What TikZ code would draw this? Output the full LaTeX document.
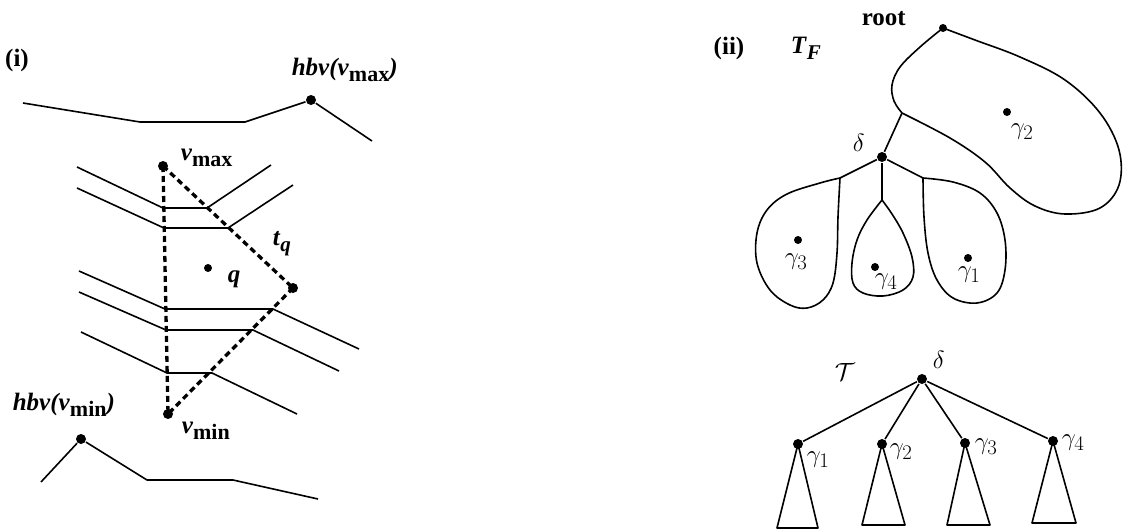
\documentclass[tikz,border=0pt]{standalone}
\usepackage{fontspec}
\setmainfont{Liberation Serif}
\newcommand{\bi}[1]{\textbf{\textit{#1}}}
\newcommand{\lowsub}[1]{\raisebox{-0.6ex}{\fontsize{22}{22}\selectfont\bfseries #1}}
\newcommand{\lowsubit}[1]{\raisebox{-0.6ex}{\fontsize{21}{21}\selectfont\bfseries\itshape #1}}
\begin{document}
\begin{tikzpicture}[x=1pt,y=-1pt,
  line width=1.6pt, line join=round,
  dot/.style={circle,fill=black,inner sep=0pt,minimum size=10pt},
  sdot/.style={circle,fill=black,inner sep=0pt,minimum size=8pt},
  dashline/.style={line width=3.3pt,dash pattern=on 6pt off 4pt},
  lbl/.style={inner sep=0pt,font=\fontsize{25}{27}\selectfont},
  glbl/.style={inner sep=0pt,anchor=west,font=\fontsize{30}{32}\selectfont}]
\useasboundingbox (0,0) rectangle (1128,531);

% ---------- panel (i) ----------
\node[lbl] (lab1) at (17,60) {\textbf{(i)}};
% top boundary
\node[dot] (hmax) at (311,100) {};
\coordinate (ta) at (23,103);
\coordinate (tb) at (140,122);
\coordinate (tc) at (245,122);
\coordinate (td) at (372,141);
\draw (ta) -- (tb) -- (tc) -- (hmax) -- (td);
\node[lbl,anchor=base west] (hmaxl) at (291,75) {\bi{hbv(v}\lowsub{max}\bi{)}};
% bottom boundary
\node[dot] (hmin) at (81,439) {};
\coordinate (ba) at (41,482);
\coordinate (bb) at (147,480);
\coordinate (bc) at (233,480);
\coordinate (bd) at (318,499);
\draw (ba) -- (hmin) -- (bb) -- (bc) -- (bd);
\node[lbl,anchor=base west] (hminl) at (12,410) {\bi{hbv(v}\lowsub{min}\bi{)}};

% triangle vertices
\node[dot] (vmax) at (163,166) {};
\node[dot] (vr) at (293,288) {};
\node[dot] (vmin) at (168,414) {};
\node[lbl,anchor=base west] (vmaxl) at (180,160) {\bi{v}\lowsub{max}};
\node[lbl,anchor=base west] (vminl) at (181,433) {\bi{v}\lowsub{min}};
\node[lbl,anchor=base west] (tql) at (272,245) {\bi{t}\lowsubit{q}};
\node[sdot] (q) at (208,268) {};
\node[lbl,anchor=base west] (ql) at (227,282) {\bi{q}};

% segment lines
\coordinate (a1) at (77,167);  \coordinate (a2) at (163,208); \coordinate (a3) at (207,208); \coordinate (a4) at (271,165);
\coordinate (b1) at (77,188);  \coordinate (b2) at (164,228); \coordinate (b3) at (228,228); \coordinate (b4) at (293,185);
\coordinate (c1) at (79,271);  \coordinate (c2) at (165,309); \coordinate (c3) at (273,309); \coordinate (c4) at (359,349);
\coordinate (d1) at (79,292);  \coordinate (d2) at (166,330); \coordinate (d3) at (253,330); \coordinate (d4) at (339,371);
\coordinate (e1) at (81,332);  \coordinate (e2) at (167,373); \coordinate (e3) at (212,373); \coordinate (e4) at (297,414);
\draw (a1) -- (a2) -- (a3) -- (a4);
\draw (b1) -- (b2) -- (b3) -- (b4);
\draw (c1) -- (c2) -- (c3) -- (c4);
\draw (d1) -- (d2) -- (d3) -- (d4);
\draw (e1) -- (e2) -- (e3) -- (e4);

% dashed triangle
\draw[dashline] (vmax.center) -- (vmin.center);
\draw[dashline] (vmax.center) -- (vr.center);
\draw[dashline] (vr.center) -- (vmin.center);

% ---------- panel (ii) ----------
\node[lbl] (lab2) at (729,48) {\textbf{(ii)}};
\node[lbl,anchor=base west] (tfl) at (790,53) {\bi{T}\lowsubit{F}};
\node[lbl,anchor=base west] (rootl) at (861,25) {\textbf{root}};
\node[sdot] (root) at (943,28) {};
\coordinate (jn) at (902,113);
\node[dot] (dl) at (882,157) {};
\node[glbl] (dll) at (852,143) {$\delta$};

% gamma2 blob
\draw plot[smooth,tension=0.6] coordinates {(943,28) (920,47) (900,67) (892,85) (894,101) (902,113)};
\draw plot[smooth,tension=0.6] coordinates {(902,113) (950,138) (985,162) (1010,188) (1035,206) (1065,214) (1100,208) (1119,185) (1119,150) (1100,113) (1065,80) (1020,57) (975,40) (943,28)};
\draw (jn) -- (dl);
\node[sdot] (g2) at (1007,112) {};
\node[glbl] (g2l) at (1010,132) {$\gamma_2$};

% gamma3 loop
\coordinate (j3) at (840,178);
\draw (dl) -- (j3);
\draw plot[smooth,tension=0.6] coordinates {(840,178) (820,183) (787,194) (767,210) (757,233) (757,263) (770,290) (790,305) (807,308) (823,300) (833,283) (837,253) (838,217) (840,178)};
\node[sdot] (g3) at (798,240) {};
\node[glbl] (g3l) at (784,262) {$\gamma_3$};

% gamma4 loop
\coordinate (j4) at (882,200);
\draw (dl) -- (j4);
\draw plot[smooth,tension=0.6] coordinates {(882,200) (867,220) (857,240) (852,263) (853,283) (863,293) (883,296) (903,290) (913,277) (912,257) (903,233) (892,214) (882,200)};
\node[sdot] (g4) at (875,267) {};
\node[glbl] (g4l) at (874,282) {$\gamma_4$};

% gamma1 loop
\coordinate (j1) at (923,178);
\draw (dl) -- (j1);
\draw plot[smooth,tension=0.6] coordinates {(923,178) (924,217) (928,253) (937,280) (953,298) (977,303) (997,293) (1005,270) (1005,240) (997,213) (980,193) (953,182) (923,178)};
\node[sdot] (g1) at (968,258) {};
\node[glbl] (g1l) at (957,275) {$\gamma_1$};

% ---------- tree T ----------
\node[glbl] (tcal) at (834,372) {$\mathcal{T}$};
\node[dot] (td) at (922,379) {};
\node[glbl] (tdl) at (932,360) {$\delta$};
\node[dot] (t1) at (798,444) {};
\node[dot] (t2) at (882,444) {};
\node[dot] (t3) at (965,443) {};
\node[dot] (t4) at (1053,441) {};
\draw (td) -- (t1); \draw (td) -- (t2); \draw (td) -- (t3); \draw (td) -- (t4);
\node[glbl] (t1l) at (806,460) {$\gamma_1$};
\node[glbl] (t2l) at (889,452) {$\gamma_2$};
\node[glbl] (t3l) at (974,447) {$\gamma_3$};
\node[glbl] (t4l) at (1061,443) {$\gamma_4$};
\coordinate (t1a) at (777,528); \coordinate (t1b) at (818,528);
\coordinate (t2a) at (862,525); \coordinate (t2b) at (905,525);
\coordinate (t3a) at (947,525); \coordinate (t3b) at (990,525);
\coordinate (t4a) at (1032,523); \coordinate (t4b) at (1076,523);
\draw (t1.center) -- (t1a) -- (t1b) -- cycle;
\draw (t2.center) -- (t2a) -- (t2b) -- cycle;
\draw (t3.center) -- (t3a) -- (t3b) -- cycle;
\draw (t4.center) -- (t4a) -- (t4b) -- cycle;
\end{tikzpicture}
\end{document}
